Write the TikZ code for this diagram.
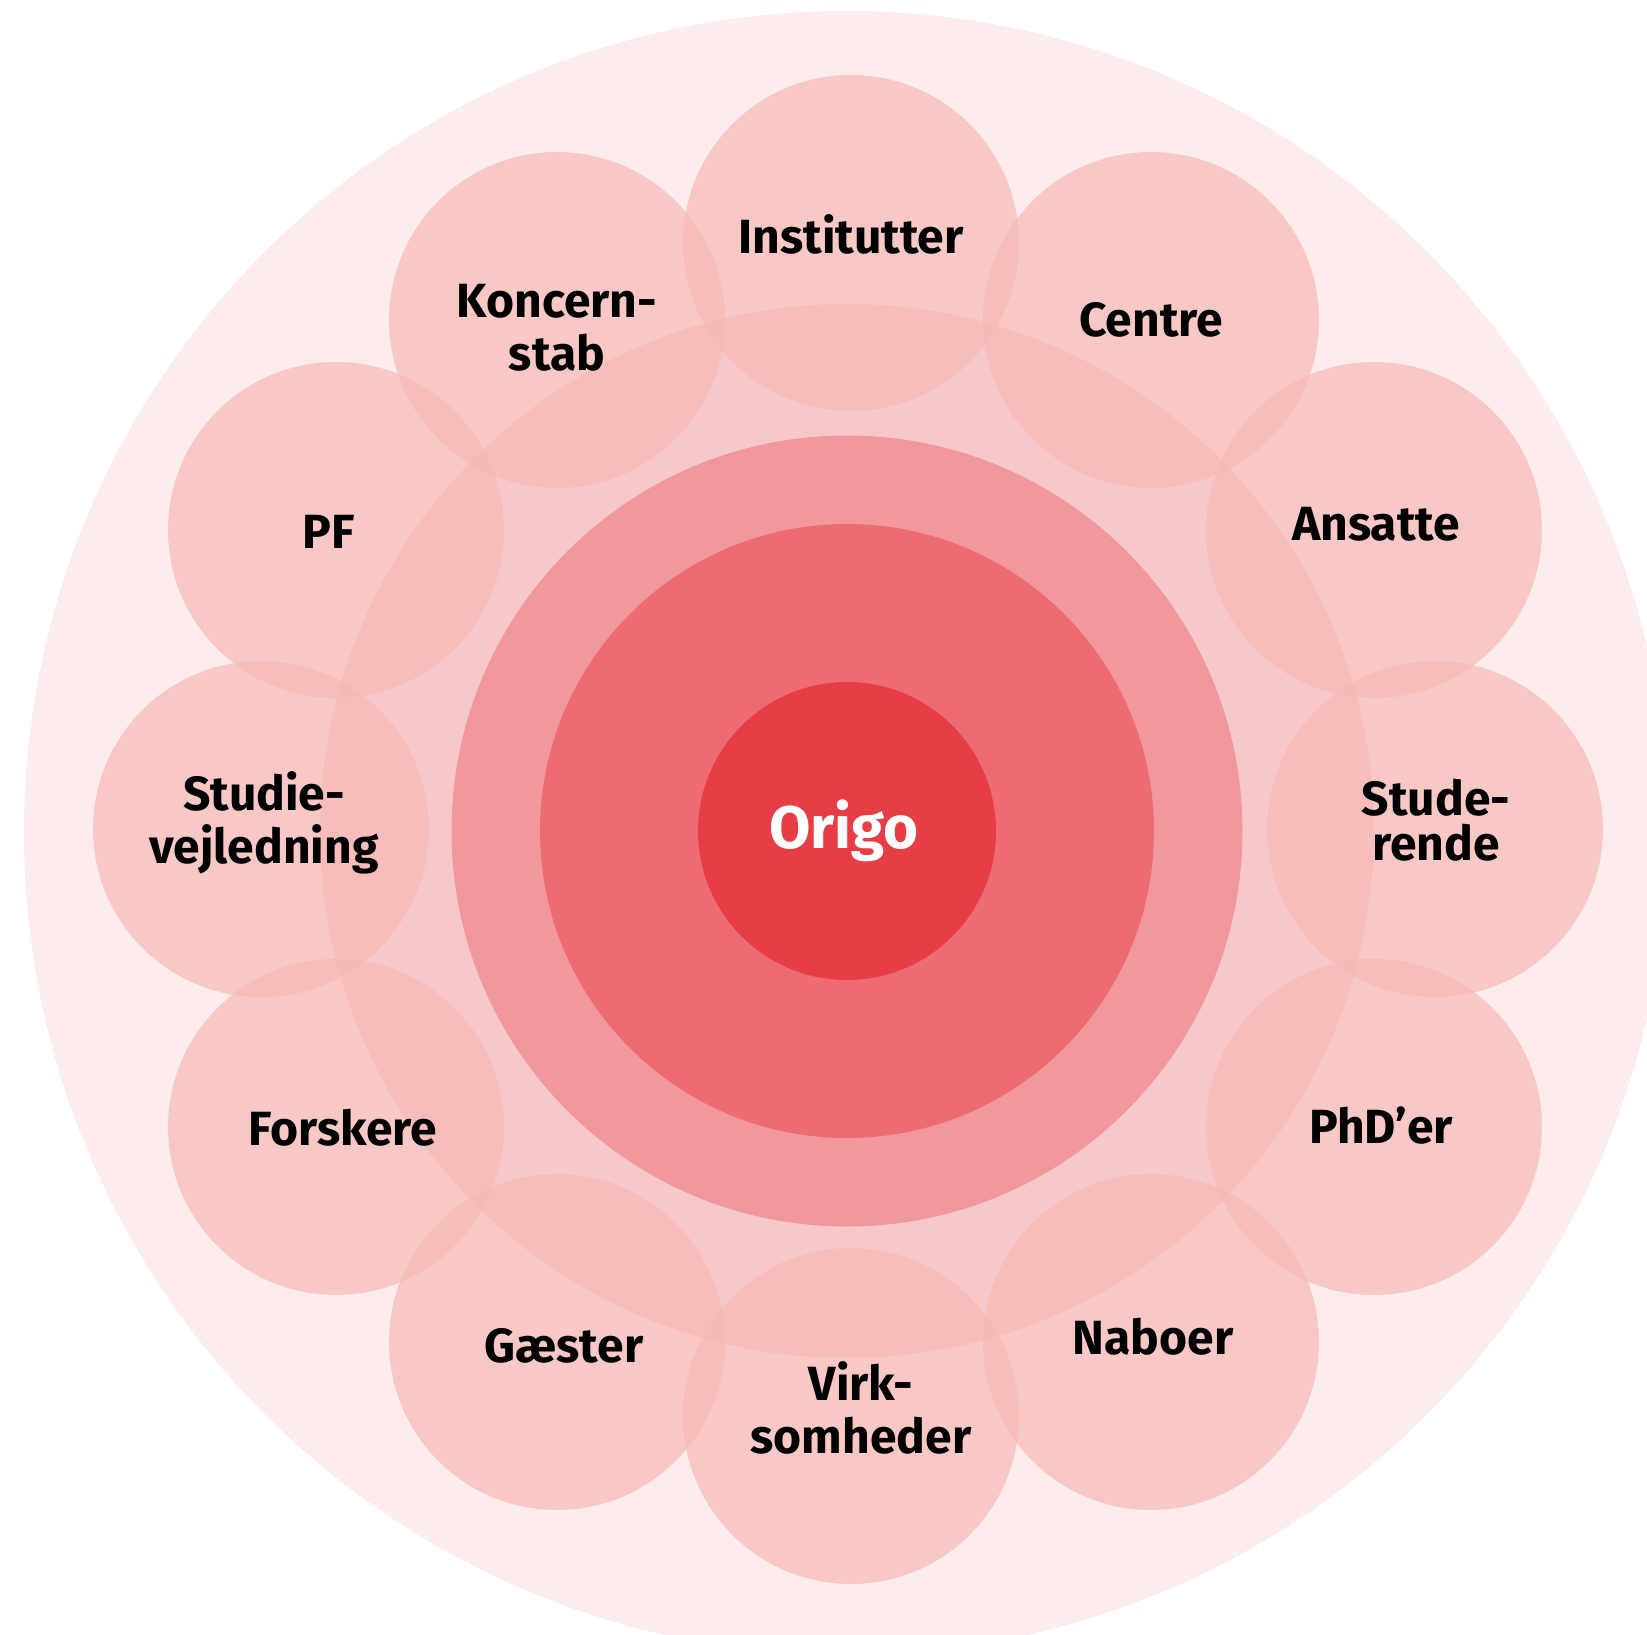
\documentclass[tikz,border=0pt]{standalone}
\usepackage{fontspec}
\setmainfont{Fira Sans}
\definecolor{bgout}{RGB}{252,236,236}
\definecolor{midpink}{RGB}{246,200,204}
\definecolor{smallc}{RGB}{246,185,180}
\definecolor{ringa}{RGB}{241,152,156}
\definecolor{ringb}{RGB}{237,108,116}
\definecolor{corec}{RGB}{231,61,70}
\begin{document}
\begin{tikzpicture}[x=1pt,y=-1pt,
  disc/.style={circle, inner sep=0pt, outer sep=0pt, draw=none},
  bubble/.style={disc, fill=smallc, fill opacity=0.69, minimum size=336pt},
  lbl/.style={font=\fontsize{48}{53}\selectfont\bfseries, inner sep=0pt, align=center, text=black, anchor=base},
]
\useasboundingbox (0,0) rectangle (1647,1634);
\clip (0,0) rectangle (1647,1634);
\node[disc, fill=bgout, minimum size=1644pt] (outer) at (846,833) {};
\node[disc, fill=midpink, minimum size=1054pt] (mid) at (847,831) {};
% bubbles
\node[bubble] (cInst) at (851,243) {};
\node[bubble] (cCentre) at (1151,320) {};
\node[bubble] (cAns) at (1374,530) {};
\node[bubble] (cStud) at (1435,829) {};
\node[bubble] (cPhd) at (1374,1127) {};
\node[bubble] (cNab) at (1151,1342) {};
\node[bubble] (cVirk) at (851,1416) {};
\node[bubble] (cGae) at (557,1342) {};
\node[bubble] (cFor) at (336,1127) {};
\node[bubble] (cSv) at (261,829) {};
\node[bubble] (cPF) at (336,530) {};
\node[bubble] (cKon) at (557,320) {};
% rings
\node[disc, fill=ringa, minimum size=791pt] (ringA) at (847,831) {};
\node[disc, fill=ringb, minimum size=614pt] (ringB) at (847,831) {};
\node[disc, fill=corec, minimum size=298pt] (core) at (847,831) {};
% labels
\node[lbl] (tInst) at (851,253) {Institutter};
\node[lbl] (tCentre) at (1151,336) {Centre};
\node[lbl] (tAns) at (1376,540) {Ansatte};
\node[lbl, font=\fontsize{48}{45}\selectfont\bfseries] (tStud) at (1436,860) {Stude-\\rende};
\node[lbl] (tPhd) at (1381,1143) {PhD’er};
\node[lbl] (tNab) at (1153,1354) {Naboer};
\node[lbl] (tVirk) at (861,1453) {Virk-\\somheder};
\node[lbl] (tGae) at (564,1362) {Gæster};
\node[lbl] (tFor) at (343,1145) {Forskere};
\node[lbl] (tSv) at (264,863) {Studie-\\vejledning};
\node[lbl] (tPF) at (329,548) {PF};
\node[lbl] (tKon) at (557,370) {Koncern-\\stab};
\node[lbl, text=white, font=\fontsize{60}{64}\selectfont\bfseries] (tOrigo) at (844,848) {Origo};
\end{tikzpicture}
\end{document}
